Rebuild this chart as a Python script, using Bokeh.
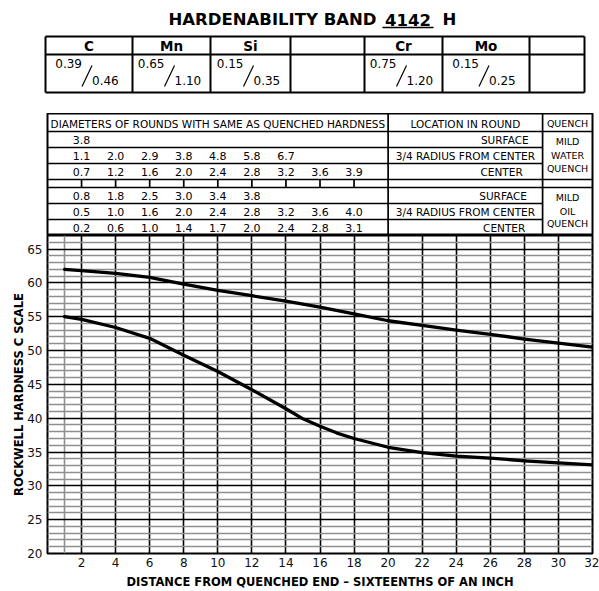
from bokeh.plotting import figure
from bokeh.layouts import column
from bokeh.models import Range1d, FixedTicker
from bokeh.core.properties import value
from bokeh.embed import file_html
from bokeh.resources import INLINE

# ---------------- data ----------------
title_main = "HARDENABILITY BAND"
grade = "4142"
grade_suffix = "H"

elements = ["C", "Mn", "Si", "", "Cr", "Mo", ""]
comp_min = ["0.39", "0.65", "0.15", "", "0.75", "0.15", ""]
comp_max = ["0.46", "1.10", "0.35", "", "1.20", "0.25", ""]

diam_positions = [2, 4, 6, 8, 10, 12, 14, 16, 18]
water_surface = [3.8]
water_three_quarter = [1.1, 2.0, 2.9, 3.8, 4.8, 5.8, 6.7]
water_center = [0.7, 1.2, 1.6, 2.0, 2.4, 2.8, 3.2, 3.6, 3.9]
oil_surface = [0.8, 1.8, 2.5, 3.0, 3.4, 3.8]
oil_three_quarter = [0.5, 1.0, 1.6, 2.0, 2.4, 2.8, 3.2, 3.6, 4.0]
oil_center = [0.2, 0.6, 1.0, 1.4, 1.7, 2.0, 2.4, 2.8, 3.1]

distance_max = [1, 2, 4, 6, 8, 10, 12, 14, 16, 18, 20, 22, 24, 26, 28, 30, 32]
hrc_max = [62.0, 61.8, 61.4, 60.8, 59.8, 58.9, 58.1, 57.3, 56.4, 55.4, 54.4, 53.7, 53.0, 52.4, 51.7, 51.1, 50.5]
distance_min = [1, 2, 4, 6, 8, 10, 12, 14, 15, 16, 17, 18, 20, 22, 24, 26, 28, 30, 32]
hrc_min = [55.0, 54.6, 53.4, 51.8, 49.3, 46.9, 44.2, 41.4, 39.9, 38.8, 37.8, 37.0, 35.7, 34.9, 34.4, 34.1, 33.7, 33.4, 33.1]

x_ticks = list(range(2, 33, 2))
y_ticks = list(range(20, 66, 5))

FONT = value("DejaVu Sans")
W = 599

# ---------------- header (title + chemistry table) ----------------
h = figure(width=W, height=113, x_range=Range1d(0, 599), y_range=Range1d(113, 0),
           output_backend="svg", toolbar_location=None, x_axis_type=None, y_axis_type=None,
           min_border=0, outline_line_color=None, frame_align=False)
h.text(x=[376], y=[19], text=[title_main], text_align="right", text_baseline="middle",
       text_font=FONT, text_font_style="bold", text_font_size="16.5px", text_color="black")
h.text(x=[407.5], y=[19], text=[grade], text_align="center", text_baseline="middle",
       text_font=FONT, text_font_style="bold", text_font_size="16.5px", text_color="black")
h.text(x=[442], y=[19], text=[grade_suffix], text_align="left", text_baseline="middle",
       text_font=FONT, text_font_style="bold", text_font_size="16.5px", text_color="black")
h.segment(x0=[382], y0=[27], x1=[433], y1=[27], line_color="black", line_width=1.6)

col_edges = [45, 132, 210, 290, 364, 442, 529, 584]
t_top, t_mid, t_bot = 36, 54, 92
h.segment(x0=[col_edges[0]] * 3, y0=[t_top, t_mid, t_bot], x1=[col_edges[-1]] * 3,
          y1=[t_top, t_mid, t_bot], line_color="black", line_width=2)
h.segment(x0=col_edges, y0=[t_top] * len(col_edges), x1=col_edges, y1=[t_bot] * len(col_edges),
          line_color="black", line_width=2)
centers = [(a + b) / 2 for a, b in zip(col_edges[:-1], col_edges[1:])]
h.text(x=centers, y=[45.5] * len(centers), text=elements, text_align="center",
       text_baseline="middle", text_font=FONT, text_font_style="bold",
       text_font_size="13.5px", text_color="black")
for cx, lo, hi in zip(centers, comp_min, comp_max):
    if not lo:
        continue
    sx = cx - 2
    h.text(x=[sx - 5], y=[63], text=[lo], text_align="right", text_baseline="middle",
           text_font=FONT, text_font_size="12px", text_color="black")
    h.text(x=[sx + 5], y=[80], text=[hi], text_align="left", text_baseline="middle",
           text_font=FONT, text_font_size="12px", text_color="black")
    h.segment(x0=[sx - 5], y0=[86], x1=[sx + 5], y1=[65], line_color="black", line_width=1.2)

# ---------------- diameters table ----------------
t = figure(width=W, height=122, x_range=Range1d(0, 32), y_range=Range1d(235, 113),
           output_backend="svg", toolbar_location=None, x_axis_type=None, y_axis_type=None,
           min_border_left=47, min_border_right=7, min_border_top=0, min_border_bottom=0,
           outline_line_color="black", outline_line_width=2, frame_align=False)
x_loc = 20.0
x_q = 29.07
full_h = [131, 179, 187]
part_h = [147, 163, 203, 219]
t.segment(x0=[0] * 3, y0=full_h, x1=[32] * 3, y1=full_h, line_color="black", line_width=1.7)
t.segment(x0=[0] * 4, y0=part_h, x1=[x_q] * 4, y1=part_h, line_color="black", line_width=1.7)
t.segment(x0=[x_loc, x_q], y0=[113, 113], x1=[x_loc, x_q], y1=[235, 235],
          line_color="black", line_width=1.7)
t.segment(x0=diam_positions, y0=[179] * 9, x1=diam_positions, y1=[187] * 9,
          line_color="black", line_width=1.7)

t.text(x=[0.18], y=[123], text=["DIAMETERS OF ROUNDS WITH SAME AS QUENCHED HARDNESS"],
       text_align="left", text_baseline="middle", text_font=FONT, text_font_size="10.5px",
       text_color="black")
t.text(x=[(x_loc + x_q) / 2], y=[123], text=["LOCATION IN ROUND"], text_align="center",
       text_baseline="middle", text_font=FONT, text_font_size="10.5px", text_color="black")
t.text(x=[(x_q + 32) / 2], y=[123], text=["QUENCH"], text_align="center",
       text_baseline="middle", text_font=FONT, text_font_size="9.5px", text_color="black")

rows = [(water_surface, 139), (water_three_quarter, 155), (water_center, 171),
        (oil_surface, 195), (oil_three_quarter, 211), (oil_center, 227)]
for vals, yy in rows:
    t.text(x=diam_positions[:len(vals)], y=[yy] * len(vals), text=["%.1f" % v for v in vals],
           text_align="center", text_baseline="middle", text_font=FONT,
           text_font_size="11px", text_color="black")

loc_right = 28.25
t.text(x=[loc_right, loc_right - 0.35, loc_right - 0.1, loc_right - 0.2], y=[139, 171, 195, 227],
       text=["SURFACE", "CENTER", "SURFACE", "CENTER"], text_align="right",
       text_baseline="middle", text_font=FONT, text_font_size="10.5px", text_color="black")
t.text(x=[(x_loc + x_q) / 2] * 2, y=[155, 211],
       text=["3/4 RADIUS FROM CENTER", "3/4 RADIUS FROM CENTER"], text_align="center",
       text_baseline="middle", text_font=FONT, text_font_size="10.5px", text_color="black")
qx = (x_q + 32) / 2
t.text(x=[qx] * 6, y=[141, 155, 168, 197, 211, 223],
       text=["MILD", "WATER", "QUENCH", "MILD", "OIL", "QUENCH"], text_align="center",
       text_baseline="middle", text_font=FONT, text_font_size="9.5px", text_color="black")

# ---------------- hardenability chart ----------------
c = figure(width=W, height=356, x_range=Range1d(0, 32), y_range=Range1d(20, 67),
           output_backend="svg", toolbar_location=None,
           min_border_left=47, min_border_right=7, min_border_top=0, min_border_bottom=38,
           outline_line_color="black", outline_line_width=2, frame_align=False)
c.xaxis.ticker = FixedTicker(ticks=x_ticks)
c.yaxis.ticker = FixedTicker(ticks=y_ticks)
c.xgrid.ticker = FixedTicker(ticks=list(range(2, 31, 2)), minor_ticks=[1])
c.ygrid.ticker = FixedTicker(ticks=list(range(25, 66, 5)),
                             minor_ticks=[v for v in range(21, 67) if v % 5])
for g in (c.xgrid, c.ygrid):
    g.grid_line_color = "black"
    g.grid_line_width = 1.6
    g.minor_grid_line_color = "#8f8f8f"
    g.minor_grid_line_width = 1.6
for ax in (c.xaxis, c.yaxis):
    ax.axis_line_color = None
    ax.major_tick_line_color = None
    ax.minor_tick_line_color = None
    ax.major_tick_in = 0
    ax.major_tick_out = 0
    ax.minor_tick_in = 0
    ax.minor_tick_out = 0
    ax.major_label_text_font = "DejaVu Sans"
    ax.major_label_text_font_size = "12px"
    ax.major_label_text_color = "#111111"
    ax.axis_label_text_font = "DejaVu Sans"
    ax.axis_label_text_font_style = "bold"
    ax.axis_label_text_font_size = "11.5px"
    ax.axis_label_text_color = "black"
c.xaxis.major_label_standoff = 4
c.yaxis.major_label_standoff = 5
c.xaxis.axis_label = "DISTANCE FROM QUENCHED END \u2013 SIXTEENTHS OF AN INCH"
c.yaxis.axis_label = "ROCKWELL HARDNESS C SCALE"
c.xaxis.axis_label_standoff = 5
c.yaxis.axis_label_standoff = -2

c.line(distance_max, hrc_max, line_color="black", line_width=3.3, line_join="round", line_cap="round")
c.line(distance_min, hrc_min, line_color="black", line_width=3.3, line_join="round", line_cap="round")

layout = column(h, t, c, spacing=0)
open("out.html", "w").write(file_html(layout, INLINE))
